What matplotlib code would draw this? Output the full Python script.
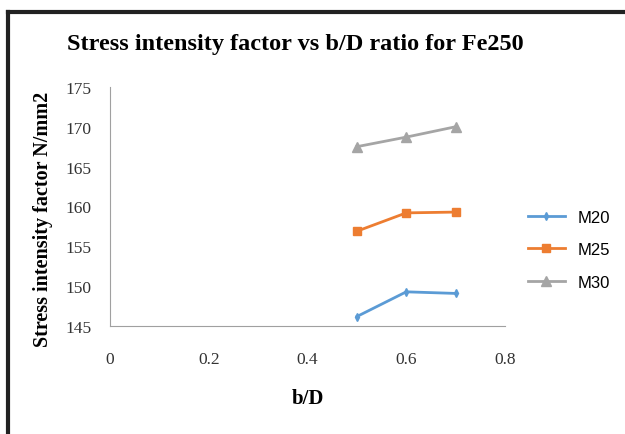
#Importing the python libraries
import matplotlib
matplotlib.use("Agg")
import matplotlib.pyplot as plt
from matplotlib.lines import Line2D

#Data
bd = [0.5, 0.6, 0.7]
m20 = [146.2, 149.3, 149.1]
m25 = [156.9, 159.2, 159.3]
m30 = [167.5, 168.7, 170.0]
series_names = ["M20", "M25", "M30"]

fig = plt.figure(figsize=(6.25, 4.35), dpi=100)
ax = fig.add_axes([0.176, 0.248, 0.632, 0.550])

ax.plot(bd, m20, color="#5b9bd5", marker="d", markersize=4, lw=2, label=series_names[0])
ax.plot(bd, m25, color="#ed7d31", marker="s", markersize=6, lw=2, label=series_names[1])
ax.plot(bd, m30, color="#a5a5a5", marker="^", markersize=7, lw=2, label=series_names[2])

ax.set_xlim(0, 0.8)
ax.set_ylim(145, 175)
ax.set_xticks([0, 0.2, 0.4, 0.6, 0.8])
ax.set_xticklabels(["0", "0.2", "0.4", "0.6", "0.8"])
ax.set_yticks(range(145, 176, 5))
for s in ["top", "right"]:
    ax.spines[s].set_visible(False)
ax.spines["left"].set_color("#a0a0a0")
ax.spines["bottom"].set_color("#a0a0a0")
ax.tick_params(axis="x", length=0, labelsize=12.5, pad=18, colors="#333333")
ax.tick_params(axis="y", length=0, labelsize=12.5, pad=32, colors="#333333")
for lab in ax.get_xticklabels() + ax.get_yticklabels():
    lab.set_family("Liberation Serif")
for lab in ax.get_yticklabels():
    lab.set_horizontalalignment("left")

ax.set_xlabel("b/D", family="Liberation Serif", fontweight="bold", fontsize=15, labelpad=15)
ax.set_ylabel("Stress intensity factor N/mm2", family="Liberation Serif", fontweight="bold",
              fontsize=14.5)
ax.yaxis.set_label_coords(-0.145, 0.45)
fig.text(0.473, 0.885, "Stress intensity factor vs b/D ratio for Fe250", ha="center",
         family="Liberation Serif", fontweight="bold", fontsize=17.5)

ax.legend(loc="center left", bbox_to_anchor=(1.02, 0.32), frameon=False,
          handlelength=2.2, labelspacing=1.05, prop={"family": "Liberation Sans", "size": 12})

#Border lines of the scanned picture
fig.add_artist(Line2D([8/625, 1], [1-13/435, 1-13/435], transform=fig.transFigure, color="#222222", lw=3))
fig.add_artist(Line2D([8/625, 8/625], [0, 1-13/435], transform=fig.transFigure, color="#222222", lw=3))

fig.savefig("out.png", dpi=100)
